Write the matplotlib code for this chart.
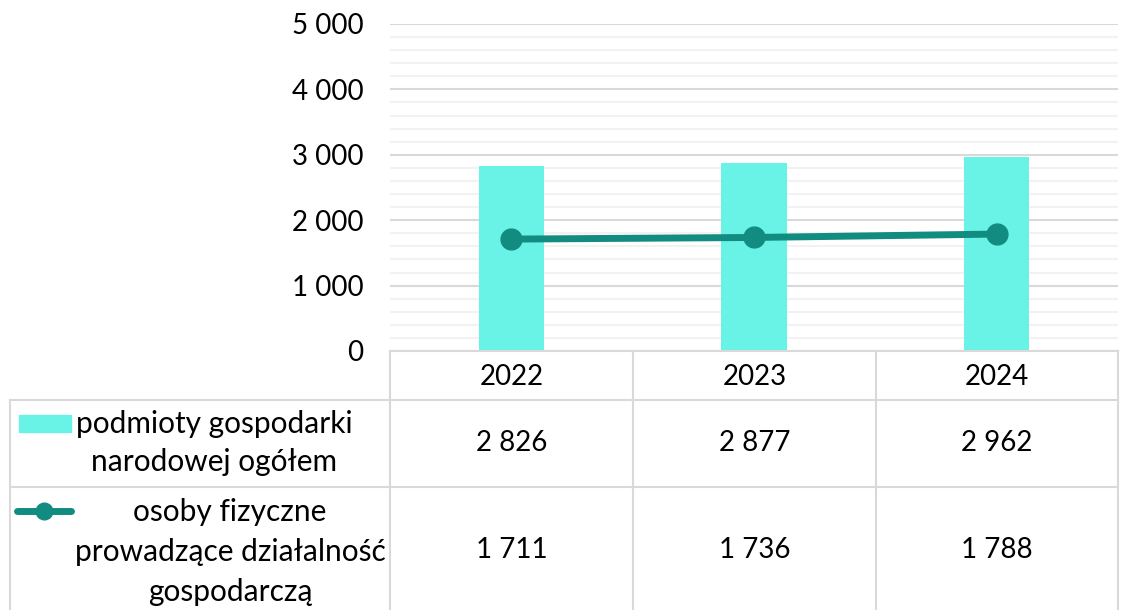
import numpy as np
import matplotlib.pyplot as plt
from matplotlib.patches import Rectangle
from matplotlib.lines import Line2D

# data
years = ['2022', '2023', '2024']
podmioty = [2826, 2877, 2962]
osoby = [1711, 1736, 1788]
label_bar = ['podmioty gospodarki', 'narodowej ogółem']
label_line = ['osoby fizyczne', 'prowadzące działalność', 'gospodarczą']
yticks = [0, 1000, 2000, 3000, 4000, 5000]

W, H = 1121, 610
BAR_C = '#69F2E6'
LINE_C = '#128C80'
GRID_C = '#D9D9D9'
MINOR_C = '#F2F2F2'
FS = 20
FS_LAB = 21.5

plt.rcParams['font.family'] = ['Lato', 'DejaVu Sans']


def fx(x):
    return x / W


def fy(y):
    return 1 - y / H


def fmt(v):
    return f'{v:,}'.replace(',', ' ')


fig = plt.figure(figsize=(W / 100, H / 100), dpi=100)
ax = fig.add_axes([fx(390), fy(351), fx(1118) - fx(390), fy(24) - fy(351)])

x = np.arange(len(years))
ax.bar(x, podmioty, width=0.27, color=BAR_C, zorder=2)
ax.plot(x, osoby, color=LINE_C, lw=5, marker='o', ms=15, zorder=3)

ax.set_xlim(-0.5, len(years) - 0.5)
ax.set_ylim(0, 5000)
ax.set_yticks(yticks)
ax.set_yticklabels([fmt(v) for v in yticks], fontsize=FS)
ax.set_yticks(np.arange(0, 5001, 200), minor=True)
ax.tick_params(axis='y', which='both', length=0, pad=19)
ax.set_xticks([])
ax.grid(axis='y', which='major', color=GRID_C, lw=1.5, zorder=0)
ax.grid(axis='y', which='minor', color=MINOR_C, lw=1.5, zorder=0)
for s in ax.spines.values():
    s.set_visible(False)

# data table
cols = [390, 633, 876, 1118]


def hline(y, x0, x1):
    fig.add_artist(Line2D([fx(x0), fx(x1)], [fy(y), fy(y)], color=GRID_C, lw=1.5))


def vline(x0, y0, y1):
    fig.add_artist(Line2D([fx(x0), fx(x0)], [fy(y0), fy(y1)], color=GRID_C, lw=1.5))


hline(351, 390, 1118)
hline(400, 10, 1118)
hline(487, 10, 1118)
for c in cols:
    vline(c, 351, 610)
vline(10, 400, 610)

for i, yr in enumerate(years):
    cx = (cols[i] + cols[i + 1]) / 2
    fig.text(fx(cx), fy(377), yr, fontsize=FS, ha='center', va='center')
    fig.text(fx(cx), fy(443), fmt(podmioty[i]), fontsize=FS, ha='center', va='center')
    fig.text(fx(cx), fy(550), fmt(osoby[i]), fontsize=FS, ha='center', va='center')

# row labels with legend keys
fig.add_artist(Rectangle((fx(19), fy(432)), fx(71) - fx(19), fy(415) - fy(432), color=BAR_C))
for j, t in enumerate(label_bar):
    fig.text(fx(214), fy(424 + j * 38), t, fontsize=FS_LAB, ha='center', va='center')

fig.add_artist(Line2D([fx(17), fx(71)], [fy(511), fy(511)], color=LINE_C, lw=5,
                      solid_capstyle='round'))
fig.add_artist(Line2D([fx(44)], [fy(511)], color=LINE_C, marker='o', ms=12))
for j, t in enumerate(label_line):
    fig.text(fx(230), fy(512 + j * 40), t, fontsize=FS_LAB, ha='center', va='center')

fig.savefig('out.png', dpi=100)
